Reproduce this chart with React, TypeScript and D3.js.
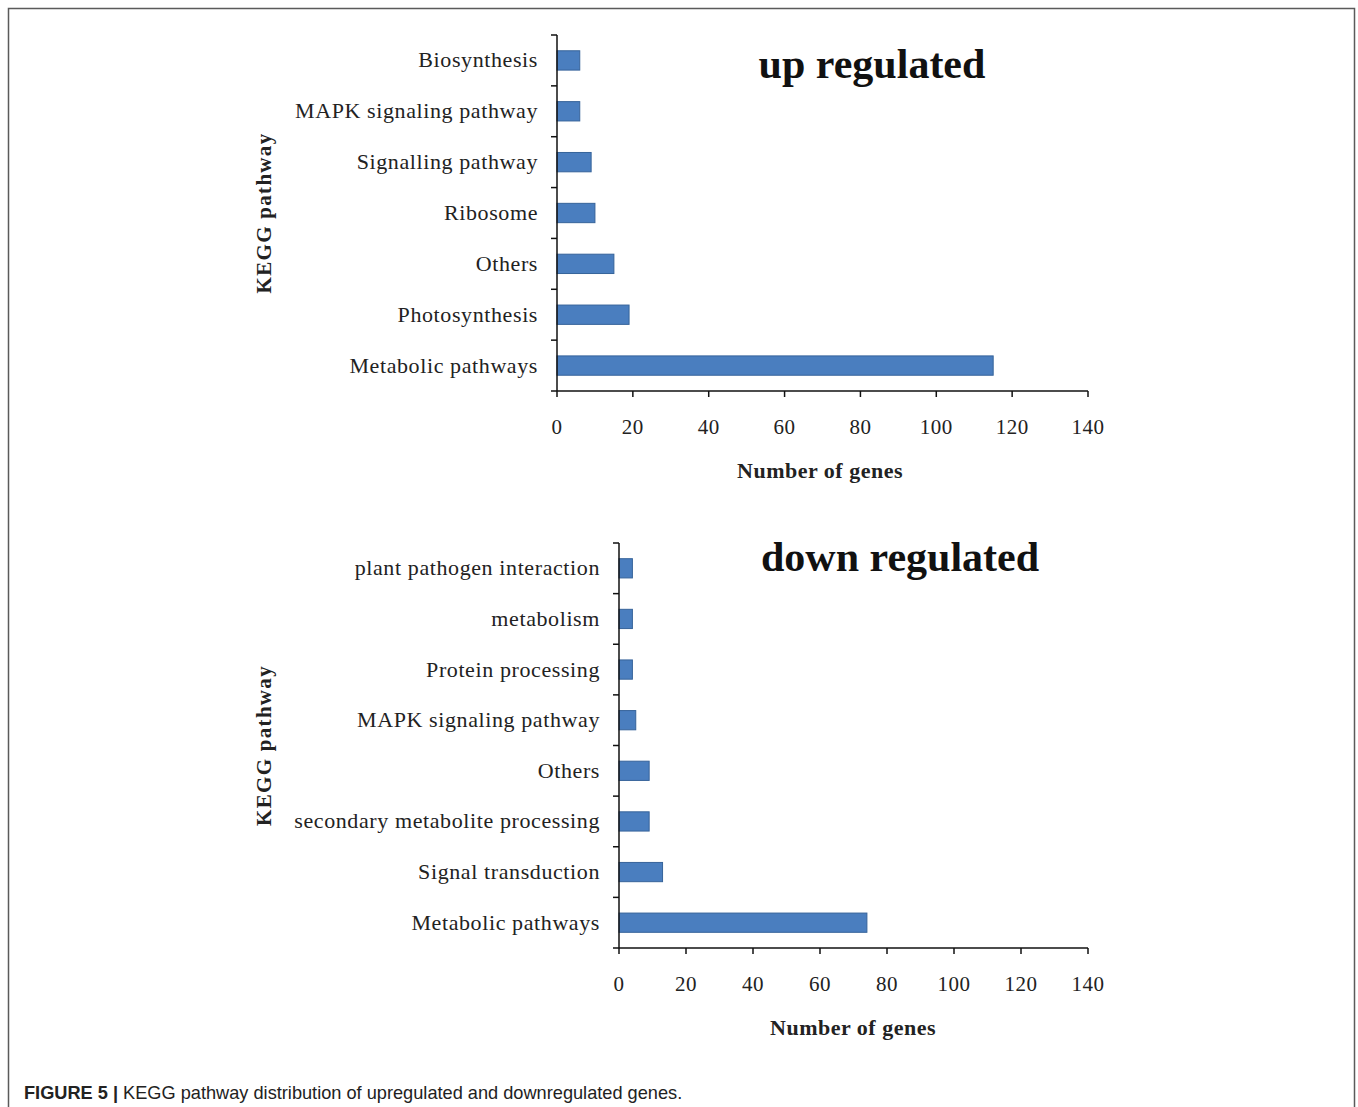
import React, { useEffect, useRef } from "react";
import * as d3 from "d3";

// Up-regulated pathways, listed top to bottom
const upCategories = [
  "Biosynthesis",
  "MAPK signaling pathway",
  "Signalling pathway",
  "Ribosome",
  "Others",
  "Photosynthesis",
  "Metabolic pathways",
];
const upCounts = [6, 6, 9, 10, 15, 19, 115];

// Down-regulated pathways, listed top to bottom
const downCategories = [
  "plant pathogen interaction",
  "metabolism",
  "Protein processing",
  "MAPK signaling pathway",
  "Others",
  "secondary metabolite processing",
  "Signal transduction",
  "Metabolic pathways",
];
const downCounts = [4, 4, 4, 5, 9, 9, 13, 74];

const xTicks = [0, 20, 40, 60, 80, 100, 120, 140];

const SERIF = "'Liberation Serif', 'Times New Roman', serif";
const SANS = "'Liberation Sans', Arial, sans-serif";
const BAR_FILL = "#4a7ebf";
const BAR_STROKE = "#36639a";

type PanelSpec = {
  categories: string[];
  values: number[];
  title: string;
  x0: number;
  x1: number;
  y0: number;
  y1: number;
  titleX: number;
  titleY: number;
  axisTitleX: number;
  axisTitleY: number;
  yTitleX: number;
};

function drawPanel(svg: d3.Selection<SVGSVGElement, unknown, null, undefined>, p: PanelSpec) {
  const g = svg.append("g");
  const x = d3.scaleLinear().domain([0, 140]).range([p.x0, p.x1]);
  const y = d3.scaleBand<string>().domain(p.categories).range([p.y0, p.y1]).padding(0);
  const barH = y.bandwidth() * 0.38;

  // bars
  g.selectAll("rect.bar")
    .data(p.categories.map((c, i) => ({ c, v: p.values[i] })))
    .join("rect")
    .attr("class", "bar")
    .attr("x", x(0))
    .attr("y", (d) => (y(d.c) as number) + y.bandwidth() / 2 - barH / 2)
    .attr("width", (d) => x(d.v) - x(0))
    .attr("height", barH)
    .attr("fill", BAR_FILL)
    .attr("stroke", BAR_STROKE)
    .attr("stroke-width", 1);

  // y axis line and boundary ticks
  g.append("line")
    .attr("x1", x(0)).attr("x2", x(0))
    .attr("y1", p.y0).attr("y2", p.y1)
    .attr("stroke", "#111").attr("stroke-width", 1.5);
  const bounds = p.categories.map((c) => y(c) as number).concat([p.y1]);
  g.selectAll("line.ytick")
    .data(bounds)
    .join("line")
    .attr("class", "ytick")
    .attr("x1", x(0) - 6).attr("x2", x(0))
    .attr("y1", (d) => d).attr("y2", (d) => d)
    .attr("stroke", "#111").attr("stroke-width", 1.5);

  // category labels
  g.selectAll("text.cat")
    .data(p.categories)
    .join("text")
    .attr("class", "cat")
    .attr("x", x(0) - 19)
    .attr("y", (d) => (y(d) as number) + y.bandwidth() / 2 + 7)
    .attr("text-anchor", "end")
    .attr("font-family", SERIF)
    .attr("font-size", 22)
    .attr("letter-spacing", 0.6)
    .attr("fill", "#222")
    .text((d) => d);

  // x axis
  g.append("line")
    .attr("x1", x(0)).attr("x2", x(140))
    .attr("y1", p.y1).attr("y2", p.y1)
    .attr("stroke", "#111").attr("stroke-width", 1.5);
  g.selectAll("line.xtick")
    .data(xTicks)
    .join("line")
    .attr("class", "xtick")
    .attr("x1", (d) => x(d)).attr("x2", (d) => x(d))
    .attr("y1", p.y1).attr("y2", p.y1 + 6)
    .attr("stroke", "#111").attr("stroke-width", 1.5);
  g.selectAll("text.xlab")
    .data(xTicks)
    .join("text")
    .attr("class", "xlab")
    .attr("x", (d) => x(d))
    .attr("y", p.y1 + 43)
    .attr("text-anchor", "middle")
    .attr("font-family", SERIF)
    .attr("font-size", 21)
    .attr("letter-spacing", 0.5)
    .attr("fill", "#222")
    .text((d) => String(d));

  // axis titles
  g.append("text")
    .attr("x", p.axisTitleX)
    .attr("y", p.axisTitleY)
    .attr("text-anchor", "middle")
    .attr("font-family", SERIF)
    .attr("font-weight", "bold")
    .attr("font-size", 22)
    .attr("letter-spacing", 0.5)
    .attr("fill", "#222")
    .text("Number of genes");

  const yMid = (p.y0 + p.y1) / 2;
  g.append("text")
    .attr("transform", `translate(${p.yTitleX},${yMid}) rotate(-90)`)
    .attr("text-anchor", "middle")
    .attr("font-family", SERIF)
    .attr("font-weight", "bold")
    .attr("font-size", 21)
    .attr("letter-spacing", 1.3)
    .attr("fill", "#222")
    .text("KEGG pathway");

  // panel title
  g.append("text")
    .attr("x", p.titleX)
    .attr("y", p.titleY)
    .attr("text-anchor", "middle")
    .attr("font-family", SERIF)
    .attr("font-weight", "bold")
    .attr("font-size", 42)
    .attr("fill", "#111")
    .text(p.title);
}

export default function App() {
  const ref = useRef<SVGSVGElement | null>(null);

  useEffect(() => {
    if (!ref.current) return;
    const svg = d3.select(ref.current);
    svg.selectAll("*").remove();

    svg.append("rect")
      .attr("x", 0).attr("y", 0).attr("width", 1358).attr("height", 1107)
      .attr("fill", "#fff");

    // figure frame (open at the bottom edge)
    svg.append("rect")
      .attr("x", 8.5).attr("y", 8.5).attr("width", 1346).attr("height", 1200)
      .attr("fill", "none").attr("stroke", "#5a5a5a").attr("stroke-width", 1.5);

    drawPanel(svg, {
      categories: upCategories,
      values: upCounts,
      title: "up regulated",
      x0: 557, x1: 1088, y0: 35, y1: 391,
      titleX: 872, titleY: 78,
      axisTitleX: 820, axisTitleY: 478,
      yTitleX: 271,
    });

    drawPanel(svg, {
      categories: downCategories,
      values: downCounts,
      title: "down regulated",
      x0: 619, x1: 1088, y0: 543, y1: 948,
      titleX: 900, titleY: 571,
      axisTitleX: 853, axisTitleY: 1035,
      yTitleX: 271,
    });

    const cap = svg.append("text")
      .attr("x", 24).attr("y", 1099)
      .attr("font-family", SANS)
      .attr("font-size", 18.2)
      .attr("fill", "#222");
    cap.append("tspan").attr("font-weight", "bold").text("FIGURE 5 | ");
    cap.append("tspan").text("KEGG pathway distribution of upregulated and downregulated genes.");
  }, []);

  return (
    <svg
      ref={ref}
      width={1358}
      height={1107}
      style={{ position: "absolute", left: 0, top: 0, display: "block" }}
    />
  );
}
